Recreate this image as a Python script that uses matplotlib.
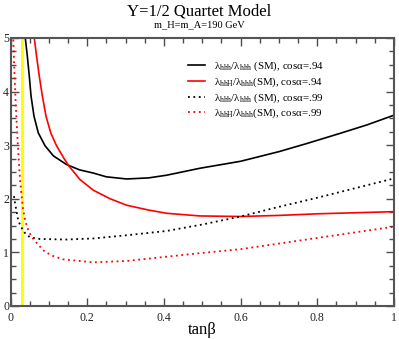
import matplotlib
matplotlib.use("Agg")
import matplotlib.pyplot as plt
from matplotlib.ticker import MultipleLocator

plt.rcParams['font.family'] = ['Liberation Serif', 'DejaVu Serif']
plt.rcParams['mathtext.fontset'] = 'custom'
plt.rcParams['mathtext.rm'] = 'Liberation Serif'
plt.rcParams['mathtext.it'] = 'Liberation Serif'
plt.rcParams['mathtext.bf'] = 'Liberation Serif:bold'

# black solid: lambda_hhh/lambda_hhh(SM), cos alpha = .94
x_hhh_94 = [0.0386, 0.0439, 0.049, 0.0535, 0.0613, 0.0725, 0.090, 0.112, 0.146, 0.18,
            0.216, 0.25, 0.303, 0.36, 0.407, 0.494, 0.6, 0.7, 0.772, 0.859, 0.93, 1.0]
y_hhh_94 = [5.0, 4.66, 4.29, 3.92, 3.54, 3.23, 2.99, 2.80, 2.64, 2.54,
            2.48, 2.41, 2.37, 2.39, 2.44, 2.57, 2.70, 2.88, 3.03, 3.22, 3.38, 3.56]

# red solid: lambda_hhH/lambda_hhh(SM), cos alpha = .94
x_hhH_94 = [0.062, 0.068, 0.075, 0.083, 0.0926, 0.105, 0.120, 0.138, 0.1525, 0.181, 0.216,
            0.26, 0.303, 0.36, 0.407, 0.494, 0.6, 0.7, 0.8, 0.9, 1.0]
y_hhH_94 = [5.0, 4.66, 4.29, 3.92, 3.54, 3.23, 2.99, 2.77, 2.61, 2.36, 2.16,
            2.0, 1.88, 1.79, 1.73, 1.68, 1.67, 1.69, 1.72, 1.74, 1.76]

# black dotted: lambda_hhh/lambda_hhh(SM), cos alpha = .99
x_hhh_99 = [0.0091, 0.0117, 0.016, 0.020, 0.027, 0.038, 0.051, 0.077, 0.146, 0.216,
            0.303, 0.407, 0.5, 0.6, 0.7, 0.8, 0.9, 1.0]
y_hhh_99 = [2.05, 1.92, 1.76, 1.60, 1.48, 1.36, 1.28, 1.25, 1.24, 1.26,
            1.32, 1.40, 1.52, 1.67, 1.85, 2.02, 2.20, 2.38]

# red dotted: lambda_hhH/lambda_hhh(SM), cos alpha = .99
x_hhH_99 = [0.0073, 0.0099, 0.0135, 0.0178, 0.022, 0.0248, 0.0318, 0.038, 0.046, 0.055,
            0.0725, 0.090, 0.112, 0.138, 0.216, 0.303, 0.407, 0.5, 0.6, 0.7, 0.8, 0.9, 1.0]
y_hhH_99 = [4.97, 4.42, 3.79, 3.17, 2.67, 2.35, 1.85, 1.60, 1.42, 1.29,
            1.14, 1.01, 0.93, 0.87, 0.815, 0.84, 0.92, 0.99, 1.06, 1.165, 1.27, 1.375, 1.48]

yellow_x = 0.03

labels = [r'$\lambda_{\mathrm{hhh}}/\lambda_{\mathrm{hhh}}$ (SM), cos$\alpha$=.94',
          r'$\lambda_{\mathrm{hhH}}/\lambda_{\mathrm{hhh}}$(SM), cos$\alpha$=.94',
          r'$\lambda_{\mathrm{hhh}}/\lambda_{\mathrm{hhh}}$ (SM), cos$\alpha$=.99',
          r'$\lambda_{\mathrm{hhH}}/\lambda_{\mathrm{hhh}}$(SM), cos$\alpha$=.99']

fig = plt.figure(figsize=(3.99, 3.39), dpi=100)
ax = fig.add_axes([10.5/399, 1-306/339, (394-10.5)/399, (306-38)/339])

dot = (0, (1, 2))
ax.axvline(yellow_x, color='#ffff00', lw=2.2, zorder=1)
ax.plot(x_hhh_94, y_hhh_94, color='black', lw=1.2, label=labels[0])
ax.plot(x_hhH_94, y_hhH_94, color='red', lw=1.2, label=labels[1])
ax.plot(x_hhh_99, y_hhh_99, color='black', lw=1.3, ls=dot, label=labels[2])
ax.plot(x_hhH_99, y_hhH_99, color='red', lw=1.3, ls=dot, label=labels[3])

ax.set_xlim(0, 1)
ax.set_ylim(0, 5)
ax.set_xticks([0, 0.2, 0.4, 0.6, 0.8, 1.0])
ax.set_xticklabels(['0', '0.2', '0.4', '0.6', '0.8', '1'])
ax.xaxis.set_minor_locator(MultipleLocator(0.05))
ax.yaxis.set_major_locator(MultipleLocator(1))
ax.yaxis.set_minor_locator(MultipleLocator(0.25))
ax.tick_params(which='both', direction='in', top=True, right=True, colors='#4d4d4d',
               labelcolor='#222222', labelsize=8.5)
ax.tick_params(which='major', length=6, width=1)
ax.tick_params(axis='x', which='major', pad=4)
ax.tick_params(axis='y', which='major', pad=1)
ax.tick_params(which='minor', length=3.5, width=1)
for s in ax.spines.values():
    s.set_color('#555555')
    s.set_linewidth(1.5)

ax.set_xlabel('tanβ', fontsize=12, labelpad=-1)

fig.text(0.5, 1-12/339, 'Y=1/2 Quartet Model', ha='center', va='center', fontsize=12)
fig.text(0.5, 1-25/339, 'm_H=m_A=190 GeV', ha='center', va='center', fontsize=7.5)

ax.legend(loc='upper left', bbox_to_anchor=(0.463, 0.918), frameon=False, fontsize=7.8,
          handlelength=1.6, handletextpad=0.8, labelspacing=0.2, borderpad=0,
          borderaxespad=0)

fig.savefig('out.png', dpi=100)
